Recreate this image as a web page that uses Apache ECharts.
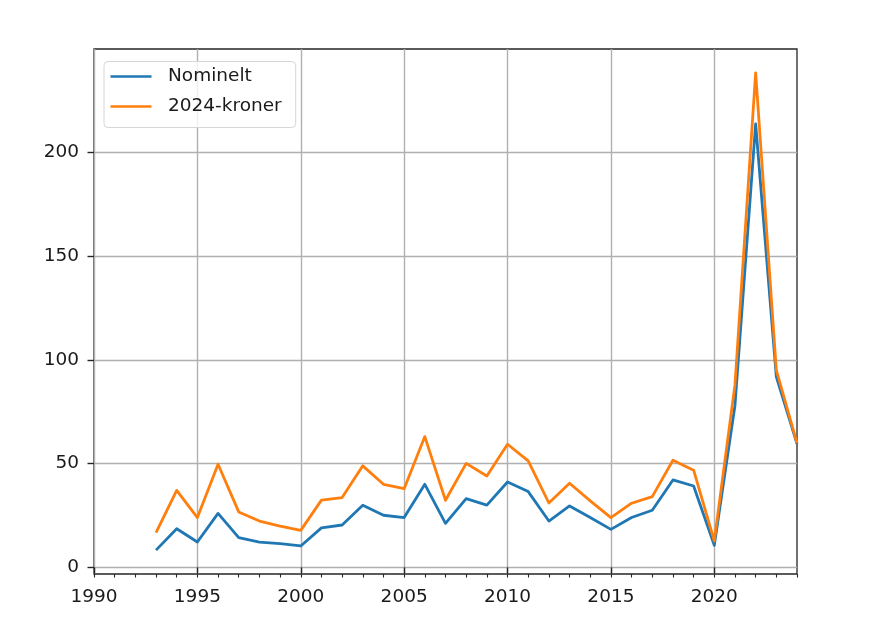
<!DOCTYPE html>
<html>
<head>
<meta charset="utf-8">
<script src="https://cdn.jsdelivr.net/npm/echarts@6/dist/echarts.min.js"></script>
<style>
html,body{margin:0;padding:0;background:#fff;}
#chart{width:869px;height:630px;}
</style>
</head>
<body>
<div id="chart"></div>
<script>
const years = [1993,1994,1995,1996,1997,1998,1999,2000,2001,2002,2003,2004,2005,2006,2007,2008,2009,2010,2011,2012,2013,2014,2015,2016,2017,2018,2019,2020,2021,2022,2023,2024];
const nominelt = [8.3,18.6,12.2,26.0,14.3,12.2,11.4,10.3,19.0,20.4,29.9,25.1,24.0,40.0,21.2,33.1,30.0,41.1,36.5,22.3,29.6,24.0,18.3,24.0,27.5,42.1,39.2,10.6,78,213.6,91.8,59.5];
const kroner2024 = [16.7,37.1,24.0,49.7,26.7,22.3,19.9,17.8,32.4,33.6,48.9,40.0,37.9,63.0,32.3,50.1,44.0,59.3,51.3,31.0,40.5,32.0,24.0,30.9,34.1,51.6,46.8,12.7,88,238.2,95.0,59.8];
const xTicks = [1990,1995,2000,2005,2010,2015,2020];
const xMinorTicks = [1990,1991,1992,1993,1994,1995,1996,1997,1998,1999,2000,2001,2002,2003,2004,2005,2006,2007,2008,2009,2010,2011,2012,2013,2014,2015,2016,2017,2018,2019,2020,2021,2022,2023,2024];
const yTicks = [0,50,100,150,200];
const seriesNames = ['Nominelt','2024-kroner'];

const font = 'DejaVu Sans';
const fs = 18.5;
const chart = echarts.init(document.getElementById('chart'), null, {renderer:'canvas'});
const gridColor = '#b0b0b0';
const spineColor = '#262626';
chart.setOption({
  animation: false,
  backgroundColor: '#fff',
  grid: {left: 94, right: 72, top: 49, bottom: 56, show: true, borderColor: spineColor, borderWidth: 1.3, backgroundColor: 'transparent', containLabel: false},
  legend: {
    orient: 'vertical', left: 104, top: 61.5,
    data: seriesNames,
    icon: 'rect', itemWidth: 41, itemHeight: 2.7, itemGap: 10,
    padding: [5, 14, 11, 6.5],
    borderColor: '#d6d6d6', borderWidth: 1, borderRadius: 4,
    backgroundColor: 'rgba(255,255,255,0.8)',
    textStyle: {fontFamily: font, fontSize: fs, color: '#1a1a1a', padding: [0,0,0,11.5], lineHeight: 20}
  },
  xAxis: [{
    type: 'value', min: 1990, max: 2024,
    axisLine: {show: false},
    axisTick: {show: true, length: 6.5, lineStyle: {color: spineColor, width: 1.4}, customValues: xTicks},
    axisLabel: {customValues: xTicks, formatter: v => String(Math.round(v)), fontFamily: font, fontSize: fs, color: '#1a1a1a', margin: 14},
    splitLine: {show: true, lineStyle: {color: gridColor, width: 1.4}}
  },{
    type: 'value', min: 1990, max: 2024, position: 'bottom',
    axisLine: {show: false},
    axisTick: {show: true, length: 3.5, lineStyle: {color: spineColor, width: 1.1}, customValues: xMinorTicks},
    axisLabel: {show: false},
    splitLine: {show: false}
  }],
  yAxis: {
    type: 'value', min: -3.2, max: 249.7,
    axisLine: {show: false},
    axisTick: {show: true, length: 6.5, lineStyle: {color: spineColor, width: 1.4}, customValues: yTicks},
    axisLabel: {customValues: yTicks, formatter: v => String(Math.round(v)), fontFamily: font, fontSize: fs, color: '#1a1a1a', margin: 15},
    splitLine: {show: true, lineStyle: {color: gridColor, width: 1.4}}
  },
  series: [
    {name: seriesNames[0], type: 'line', xAxisIndex: 0, data: years.map((y,i)=>[y, nominelt[i]]), showSymbol: false, symbol: 'none', lineStyle: {color: '#1f77b4', width: 2.8, join: 'round'}, itemStyle: {color: '#1f77b4'}},
    {name: seriesNames[1], type: 'line', xAxisIndex: 0, data: years.map((y,i)=>[y, kroner2024[i]]), showSymbol: false, symbol: 'none', lineStyle: {color: '#ff7f0e', width: 2.8, join: 'round'}, itemStyle: {color: '#ff7f0e'}}
  ]
});
</script>
</body>
</html>
